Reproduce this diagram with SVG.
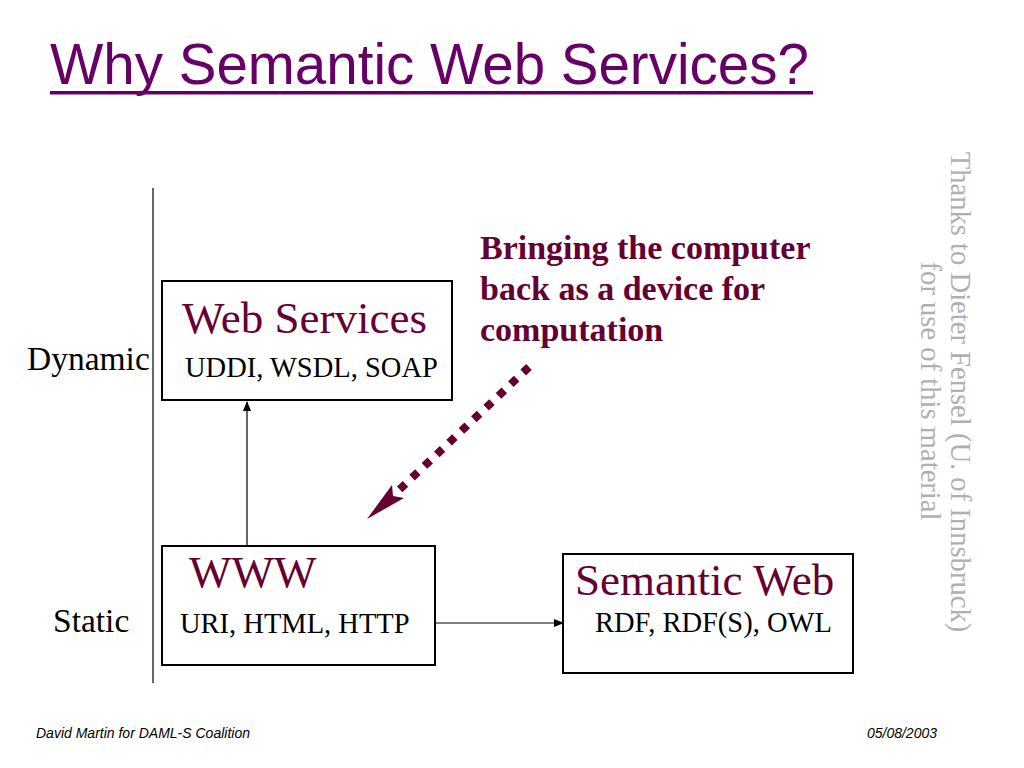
<svg xmlns="http://www.w3.org/2000/svg" width="1024" height="768" viewBox="0 0 1024 768">
<style>
  .serif { font-family: "Liberation Serif", "Times New Roman", serif; }
  .sans { font-family: "Liberation Sans", Arial, sans-serif; }
  .box { fill: #ffffff; stroke: #000000; stroke-width: 2; }
  .head { font-size: 45px; fill: #660033; }
  .sub { font-size: 28.5px; fill: #000000; }
  .side { font-size: 33.5px; fill: #000000; }
  .conn { stroke: #000000; stroke-width: 1.2; fill: none; }
</style>
<defs>
  <marker id="arr" markerWidth="10" markerHeight="8" refX="9" refY="4" orient="auto" markerUnits="userSpaceOnUse">
    <path d="M0,0 L10,4 L0,8 Z" fill="#000000"/>
  </marker>
</defs>
<rect width="1024" height="768" fill="#ffffff"/>

<g id="title">
  <text x="50" y="84" class="sans" font-size="56.5" fill="#660066">Why Semantic Web Services?</text>
  <rect x="50" y="91" width="763" height="3.5" fill="#660066"/>
</g>

<g id="axis">
  <line x1="153" y1="188" x2="153" y2="683" stroke="#000000" stroke-width="1.2"/>
  <text x="27" y="370" class="serif side">Dynamic</text>
  <text x="53" y="632" class="serif side">Static</text>
</g>

<g id="web-services">
  <rect x="162" y="281" width="290" height="119" class="box"/>
  <text x="182" y="333" class="serif head">Web Services</text>
  <text x="185" y="377" class="serif sub">UDDI, WSDL, SOAP</text>
</g>

<g id="www">
  <rect x="162" y="546" width="273" height="119" class="box"/>
  <text x="189" y="587" class="serif head">WWW</text>
  <text x="180" y="633" class="serif sub">URI, HTML, HTTP</text>
</g>

<g id="semantic-web">
  <rect x="563" y="554" width="290" height="119" class="box"/>
  <text x="575" y="595" class="serif head">Semantic Web</text>
  <text x="595" y="632" class="serif sub">RDF, RDF(S), OWL</text>
</g>

<g id="note">
  <text class="serif" font-size="34" font-weight="bold" fill="#660033">
    <tspan x="480" y="259">Bringing the computer</tspan>
    <tspan x="480" y="300">back as a device for</tspan>
    <tspan x="480" y="341">computation</tspan>
  </text>
</g>

<g id="connectors">
  <line x1="247" y1="545" x2="247" y2="402" class="conn" marker-end="url(#arr)"/>
  <line x1="436" y1="623" x2="563" y2="623" class="conn" marker-end="url(#arr)"/>
  <line x1="529" y1="367" x2="399" y2="490" stroke="#660033" stroke-width="8" stroke-dasharray="8 9"/>
  <polygon points="367,519 392,485 393,496 404,498" fill="#660033"/>
</g>

<g id="credit" class="serif" font-size="28.6" fill="#b0b0b0" text-anchor="middle">
  <text transform="translate(951,392) rotate(90)">Thanks to Dieter Fensel (U. of Innsbruck)</text>
  <text transform="translate(921,391) rotate(90)">for use of this material</text>
</g>

<g id="footer" class="sans" font-size="14" font-style="italic" fill="#000000">
  <text x="36" y="738">David Martin for DAML-S Coalition</text>
  <text x="937" y="738" text-anchor="end">05/08/2003</text>
</g>
</svg>
